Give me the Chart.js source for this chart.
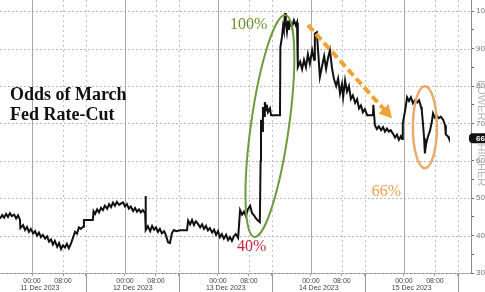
<!DOCTYPE html>
<html>
<head>
<meta charset="utf-8">
<script src="https://cdn.jsdelivr.net/npm/chart.js@4/dist/chart.umd.min.js"></script>
<style>
  html, body { margin: 0; padding: 0; background: #fff; overflow: hidden; }
</style>
</head>
<body>
<canvas id="oddsChart" width="500" height="292"></canvas>
<script>
// time in hours since 11 Dec 2023 00:00, odds in percent
const hours = [
  -8.3, -7.7, -7.2, -6.7, -6.2, -5.7, -5.2, -4.6, -4.1, -3.6, -3.1,
  -3.0, -2.3, -1.8, -1.3, -0.8, -0.3, 0.3, 0.8, 1.3, 1.8, 2.3, 2.8, 3.4, 3.9, 4.4, 4.9, 5.4, 5.9, 6.5, 7.0, 7.5, 8.0, 8.5, 9.0, 9.5,
  10.1, 10.6, 11.1, 11.6, 12.1, 12.6, 13.2, 13.4, 15.7,
  15.9, 16.3, 16.8, 17.3, 17.8, 18.3, 18.8, 19.4, 19.9, 20.4, 20.9, 21.4, 21.9, 22.5, 23.0, 23.5, 24.0, 24.5, 25.0, 25.5, 26.1, 26.6, 27.1, 27.6, 28.1, 28.6, 29.2,
  29.3, 29.4, 29.9, 30.5, 31.0, 31.5, 32.0, 32.5, 33.0, 33.5, 34.1, 34.6, 35.1, 35.6, 36.1, 36.6, 37.2, 38.2, 40.0,
  40.3, 40.8, 41.3, 41.8, 42.3, 42.8, 43.4, 43.9, 44.4, 44.9, 45.4, 45.9, 46.5, 47.0, 47.5, 48.0, 48.5, 49.0, 49.5, 50.1, 50.6, 51.1, 51.6, 52.1, 52.6, 53.2,
  53.7, 54.2, 54.7, 55.2, 55.7, 56.3, 56.8, 57.3, 57.8, 58.3, 58.8,
  59.0, 59.1, 59.4, 59.6, 59.9, 60.1, 60.4, 60.6, 60.9, 61.4, 61.7, 64.0,
  64.1, 64.5, 64.8, 65.0, 65.3, 65.5, 65.8, 66.1, 66.3, 66.6, 67.1, 67.6, 68.1, 68.4,
  68.6, 69.2, 69.7, 70.2, 70.7, 71.2, 71.7, 72.3, 72.8,
  73.0, 73.5, 73.8, 74.3, 74.8, 75.4, 75.9, 76.4, 76.9, 77.4, 77.9, 78.5, 79.0, 79.5, 80.0, 80.3,
  80.8, 81.3, 81.8, 82.3, 82.8, 83.4, 83.9, 84.4, 84.9, 85.4, 85.9, 86.5, 88.0,
  88.1, 88.5, 89.0, 89.5, 90.1, 90.6, 91.1, 91.6, 92.1, 92.6, 93.2, 93.7, 94.2, 94.7, 95.2, 95.5,
  95.7, 96.3, 96.8, 97.3, 97.8, 98.3, 98.8, 99.4, 99.9, 100.4,
  100.6, 100.9, 101.2, 101.4, 101.7, 102.2, 102.7, 103.2, 103.5, 104.0, 104.5, 105.0, 105.5, 106.1, 106.6, 106.8, 107.4, 107.6
]
const odds = [
  44.5, 45.5, 44.8, 45.8, 45.0, 46.0, 45.2, 45.6, 44.6, 45.4, 44.2,
  42.0, 42.8, 41.5, 42.3, 41.0, 41.8, 40.6, 41.2, 40.0, 40.8, 39.6, 40.2, 39.2, 39.8, 38.4, 39.0, 37.6, 38.6, 37.0, 38.0, 36.4, 37.4, 36.8, 37.8, 36.6,
  38.0, 39.5, 41.0, 40.5, 42.2, 41.8, 42.4, 44.2, 44.2,
  46.5, 45.8, 47.0, 46.2, 47.4, 46.8, 48.0, 47.2, 48.4, 47.6, 48.8, 48.0, 49.0, 48.2, 48.6, 48.9, 47.8, 48.4, 47.2, 47.8, 46.6, 47.4, 46.4, 47.0, 46.2, 46.8, 46.0,
  50.6, 41.5, 42.5, 41.2, 42.6, 41.6, 42.2, 41.0, 41.8, 40.6, 41.2, 40.0, 38.2, 38.0, 40.6, 41.5, 41.2, 41.4, 41.4,
  44.0, 43.0, 44.2, 42.8, 43.8, 43.2, 42.2, 43.0, 41.8, 42.6, 41.4, 42.0, 40.8, 41.6, 40.2, 41.2, 39.6, 40.4, 39.2, 40.2, 38.8, 39.6, 38.6, 39.8, 40.4, 39.4,
  46.8, 45.6, 46.4, 45.2, 47.0, 48.0, 46.0, 45.4, 44.6, 44.0, 43.6,
  60, 71, 68, 74.4, 72, 75.7, 73.5, 75, 73, 74, 72.2, 72.2,
  90.4, 93, 96, 95, 99.5, 97, 94.5, 97.5, 95, 97, 95.8, 97.6, 96.2, 97,
  85, 86.5, 84.5, 87, 85, 88.5, 86, 89.6, 87,
  94, 94.4, 90, 82.4, 85, 88, 84.6, 87.5, 89.6, 85, 82, 80, 82, 78, 80.5, 77,
  81.5, 78.5, 80, 76.5, 77.5, 75.5, 76.5, 74, 74.8, 73, 73.8, 72.2, 72.2,
  75, 69.5, 68.5, 69.2, 68.2, 69, 67.8, 68.6, 67.8, 68.2, 67.2, 66.2, 67, 65.6, 66.6, 65.8,
  70, 73.5, 77, 76, 77, 75.4, 76.2, 75.6, 76.2, 74.4,
  73.5, 70, 66, 62, 64.5, 66.5, 68, 70.5, 72.7, 71.5, 72, 71.4, 71.8, 71, 69.5, 67, 66.5, 66
]

const dayStarts = [0, 24, 48, 72, 96]
const dayNames = ['11 Dec 2023', '12 Dec 2023', '13 Dec 2023', '14 Dec 2023', '15 Dec 2023']
const sessionBreak = 13.9 // hours after midnight where the date blocks split
const xMin = -8.26
const xMax = 113.3

const title = ['Odds of March', 'Fed Rate-Cut']
const callouts = [
  { text: '100%', h: 51.1, v: 96.3, color: '#6b8f2c' },
  { text: '40%', h: 52.9, v: 36.9, color: '#c4263c' },
  { text: '66%', h: 87.7, v: 51.6, color: '#eba24a' }
]

const lastOdds = odds[odds.length - 1]

// dotted / solid grid drawn by hand so the dash pattern is reliable
const gridLines = {
  id: 'gridLines',
  beforeDatasetsDraw(chart) {
    const ctx = chart.ctx
    const area = chart.chartArea
    const xs = chart.scales.x
    const ys = chart.scales.y
    ctx.save()
    ctx.lineWidth = 1
    ys.ticks.forEach(t => {
      if (t.value % 10 !== 0) return
      const y = Math.round(ys.getPixelForValue(t.value)) + 0.5
      ctx.strokeStyle = '#b8b8b8'
      ctx.setLineDash([2, 2])
      ctx.beginPath()
      ctx.moveTo(area.left, y)
      ctx.lineTo(area.right, y)
      ctx.stroke()
    })
    xs.ticks.forEach(t => {
      const x = Math.round(xs.getPixelForValue(t.value)) + 0.5
      const midnight = t.value % 24 === 0
      ctx.strokeStyle = midnight ? '#a8a8a8' : '#c0c0c0'
      ctx.setLineDash(midnight ? [] : [2, 3])
      ctx.beginPath()
      ctx.moveTo(x, area.top)
      ctx.lineTo(x, area.bottom)
      ctx.stroke()
    })
    ctx.restore()
  }
}

const annotations = {
  id: 'annotations',
  afterDraw(chart) {
    const ctx = chart.ctx
    const xs = chart.scales.x
    const ys = chart.scales.y
    const area = chart.chartArea
    const px = h => xs.getPixelForValue(h)
    const py = v => ys.getPixelForValue(v)

    ctx.save()
    // date block separators in the label strip
    ctx.strokeStyle = '#9a9a9a'
    ctx.lineWidth = 1
    dayStarts.forEach(d => {
      const x = Math.round(px(d + sessionBreak)) + 0.5
      ctx.beginPath()
      ctx.moveTo(x, area.bottom)
      ctx.lineTo(x, chart.height)
      ctx.stroke()
    })

    // title
    ctx.fillStyle = '#111'
    ctx.font = 'bold 18px "Liberation Serif"'
    ctx.textAlign = 'left'
    ctx.textBaseline = 'middle'
    ctx.fillText(title[0], px(-5.7), py(77.6))
    ctx.fillText(title[1], px(-5.7), py(72.2))

    // green ellipse round the jump
    ctx.strokeStyle = '#6c9c3b'
    ctx.lineWidth = 2
    ctx.beginPath()
    ctx.ellipse(px(61.4), py(69.3), 19, 112, 8 * Math.PI / 180, 0, Math.PI * 2)
    ctx.stroke()

    // orange ellipse round the dip
    ctx.strokeStyle = '#eaab6c'
    ctx.lineWidth = 2.5
    ctx.beginPath()
    ctx.ellipse(px(101.4), py(69.0), 12, 41, 0, 0, Math.PI * 2)
    ctx.stroke()

    // dashed trend arrow
    const x0 = px(71.2), y0 = py(96.3), x1 = px(92.9), y1 = py(71.4)
    const ang = Math.atan2(y1 - y0, x1 - x0)
    const head = 11
    ctx.strokeStyle = '#f0a236'
    ctx.fillStyle = '#f0a236'
    ctx.lineWidth = 4
    ctx.setLineDash([8, 4])
    ctx.beginPath()
    ctx.moveTo(x0, y0)
    ctx.lineTo(x1 - Math.cos(ang) * head, y1 - Math.sin(ang) * head)
    ctx.stroke()
    ctx.setLineDash([])
    ctx.beginPath()
    ctx.moveTo(x1, y1)
    ctx.lineTo(x1 - Math.cos(ang - 0.5) * head * 1.3, y1 - Math.sin(ang - 0.5) * head * 1.3)
    ctx.lineTo(x1 - Math.cos(ang + 0.5) * head * 1.3, y1 - Math.sin(ang + 0.5) * head * 1.3)
    ctx.closePath()
    ctx.fill()

    // percent callouts
    ctx.font = '16px "Liberation Serif"'
    ctx.textBaseline = 'middle'
    callouts.forEach(c => {
      ctx.fillStyle = c.color
      ctx.fillText(c.text, px(c.h), py(c.v))
    })

    // side labels on the axis strip
    ctx.fillStyle = '#b5b5b5'
    ctx.font = '11px "Liberation Sans"'
    ctx.textAlign = 'center'
    ;[['LOWER', 76.2], ['HIGHER', 58.9]].forEach(([t, v]) => {
      ctx.save()
      ctx.translate(area.right + 10, py(v))
      ctx.rotate(Math.PI / 2)
      ctx.fillText(t, 0, 0)
      ctx.restore()
    })

    // last value tag
    const ty = py(lastOdds)
    ctx.fillStyle = '#111'
    ctx.beginPath()
    ctx.roundRect(area.right - 2, ty - 5, 40, 10, 4)
    ctx.fill()
    ctx.fillStyle = '#fff'
    ctx.font = 'bold 8px "Liberation Sans"'
    ctx.textAlign = 'left'
    ctx.fillText(String(Math.round(lastOdds)), area.right + 5, ty + 0.5)
    ctx.restore()
  }
}

new Chart('oddsChart', {
  type: 'line',
  data: {
    datasets: [{
      label: 'Odds of March Fed Rate-Cut',
      data: hours.map((h, i) => ({ x: h, y: odds[i] })),
      borderColor: '#111',
      borderWidth: 2,
      pointRadius: 0,
      tension: 0,
      fill: false
    }]
  },
  options: {
    responsive: false,
    animation: false,
    devicePixelRatio: 1,
    layout: { padding: 0, autoPadding: false },
    plugins: { legend: { display: false }, tooltip: { enabled: false } },
    scales: {
      x: {
        type: 'linear',
        position: 'bottom',
        weight: 0,
        min: xMin,
        max: xMax,
        afterBuildTicks: s => {
          const t = []
          dayStarts.forEach(d => {
            t.push({ value: d }, { value: d + 8 }, { value: d + sessionBreak })
          })
          s.ticks = t.filter(k => k.value >= xMin && k.value <= xMax)
        },
        afterFit: s => { s.height = 11; s.paddingLeft = 0; s.paddingRight = 0 },
        ticks: {
          autoSkip: false,
          maxRotation: 0,
          padding: 1,
          color: '#444',
          font: { family: 'Liberation Sans', size: 7 },
          callback: v => {
            const hr = v - Math.floor(v / 24) * 24
            if (hr === 0) return '00:00'
            if (hr === 8) return '08:00'
            return ''
          }
        },
        grid: {
          drawOnChartArea: false,
          drawTicks: true,
          tickLength: 3,
          tickColor: '#999'
        },
        border: { display: true, color: '#999' }
      },
      xDate: {
        type: 'linear',
        position: 'bottom',
        weight: 1,
        min: xMin,
        max: xMax,
        afterBuildTicks: s => { s.ticks = dayStarts.map(d => ({ value: d + 2 })) },
        afterFit: s => { s.height = 8; s.paddingLeft = 0; s.paddingRight = 0 },
        ticks: {
          autoSkip: false,
          maxRotation: 0,
          padding: 0,
          color: '#444',
          font: { family: 'Liberation Sans', size: 7 },
          callback: (v, i) => dayNames[i]
        },
        grid: { display: false, drawTicks: false },
        border: { display: false }
      },
      y: {
        position: 'right',
        min: 30,
        max: 103,
        afterFit: s => { s.width = 29; s.paddingTop = 0; s.paddingBottom = 0 },
        ticks: {
          stepSize: 5,
          includeBounds: false,
          padding: 2,
          color: '#777',
          font: { family: 'Liberation Sans', size: 8 },
          callback: v => v % 10 === 0 ? String(v) : ''
        },
        grid: {
          drawOnChartArea: false,
          drawTicks: true,
          tickLength: 3,
          tickColor: '#666'
        },
        border: { display: true, color: '#8a8a8a' }
      }
    }
  },
  plugins: [gridLines, annotations]
})
</script>
</body>
</html>
